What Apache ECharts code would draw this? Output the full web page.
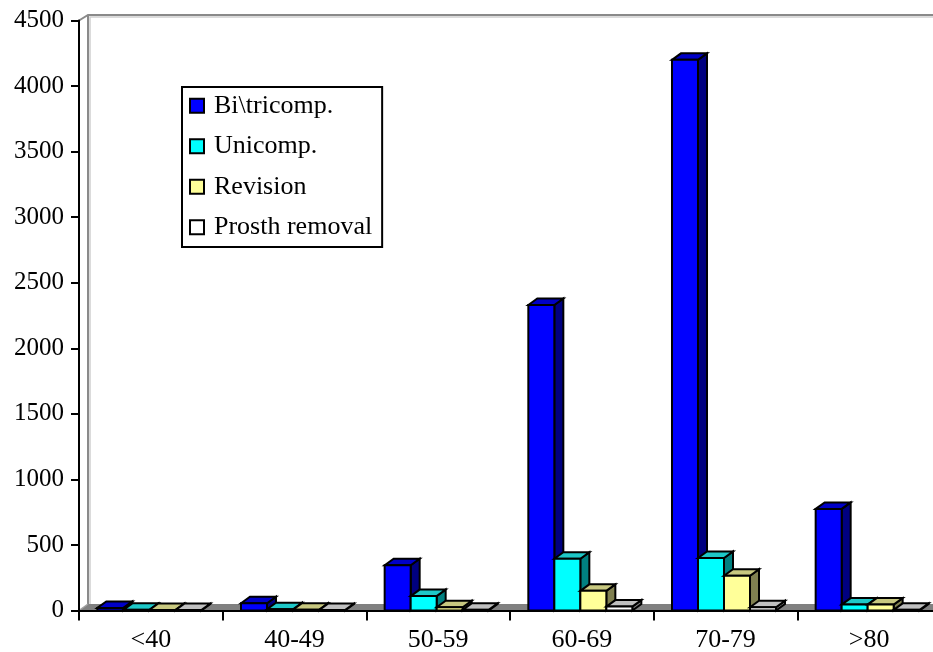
<!DOCTYPE html>
<html>
<head>
<meta charset="utf-8">
<script src="https://cdn.jsdelivr.net/npm/echarts@6/dist/echarts.min.js"></script>
<style>
html,body{margin:0;padding:0;background:#fff;}
#chart{width:933px;height:652px;}
</style>
</head>
<body>
<div id="chart"></div>
<script>
const categories = ['<40', '40-49', '50-59', '60-69', '70-79', '>80'];
const biTricomp = [20, 55, 345, 2330, 4200, 775];
const unicomp = [5, 10, 110, 395, 400, 45];
const revision = [4, 6, 25, 150, 265, 45];
const prosthRemoval = [3, 3, 5, 30, 25, 5];
const seriesNames = ['Bi\\tricomp.', 'Unicomp.', 'Revision', 'Prosth removal'];
const yTicks = { min: 0, max: 4500, interval: 500 };

const palette = [
  { front: '#0000FF', top: '#0000C8', side: '#000080' },
  { front: '#00FFFF', top: '#1EC8C8', side: '#008080' },
  { front: '#FFFF99', top: '#C8C880', side: '#808050' },
  { front: '#FFFFFF', top: '#C0C0C0', side: '#808080' }
];
const DX = 9, DY = -6.5;
const FONT = "'Liberation Serif', 'Times New Roman', serif";

function barRenderer(idx) {
  const col = palette[idx];
  return function (params, api) {
    const c = api.value(0), v = api.value(1);
    const p0 = api.coord([c, 0]);
    const p1 = api.coord([c, v]);
    const band = api.size([1, 0])[0];
    const bw = band * 0.181;
    const x = p0[0] - 2 * bw + idx * bw - 1.5;
    const yb = p0[1], yt = p1[1];
    const st = { stroke: '#000', lineWidth: 2, lineJoin: 'miter' };
    return {
      type: 'group',
      children: [
        { type: 'polygon', shape: { points: [[x + bw, yt], [x + bw + DX, yt + DY], [x + bw + DX, yb + DY], [x + bw, yb]] },
          style: Object.assign({ fill: col.side }, st) },
        { type: 'polygon', shape: { points: [[x, yt], [x + DX, yt + DY], [x + bw + DX, yt + DY], [x + bw, yt]] },
          style: Object.assign({ fill: col.top }, st) },
        { type: 'rect', shape: { x: x, y: yt, width: bw, height: yb - yt },
          style: Object.assign({ fill: col.front }, st) }
      ]
    };
  };
}

function wallRenderer(params, api) {
  const cs = params.coordSys;
  const gx = cs.x, gy = cs.y, gw = cs.width, gh = cs.height;
  const bx = gx + DX, by = gy + DY + 1, fy = gy + gh;
  return {
    type: 'group',
    silent: true,
    children: [
      { type: 'polygon', shape: { points: [[gx, fy], [gx + gw + 20, fy], [gx + gw + 20 + DX, fy + DY], [bx, fy + DY]] },
        style: { fill: '#808080' } },
      { type: 'polyline', shape: { points: [[gx, gy], [bx, by], [gx + gw + 30, by]] },
        style: { stroke: '#8a8a8a', lineWidth: 2, fill: null } },
      { type: 'polyline', shape: { points: [[bx, fy + DY], [bx, by]] },
        style: { stroke: '#8a8a8a', lineWidth: 2, fill: null } },
      { type: 'polyline', shape: { points: [[bx + 2, fy + DY], [bx + 2, by + 2], [gx + gw + 30, by + 2]] },
        style: { stroke: '#cfcfcf', lineWidth: 1.5, fill: null } },
      { type: 'polyline', shape: { points: [[gx, fy], [bx, fy + DY]] },
        style: { stroke: '#a0a0a0', lineWidth: 1.5, fill: null } }
    ]
  };
}

const seriesData = [biTricomp, unicomp, revision, prosthRemoval];
const series = [{
  type: 'custom',
  name: '__wall',
  renderItem: wallRenderer,
  data: [[0, 0]],
  z: 1,
  silent: true,
  legendHoverLink: false
}];
seriesData.forEach(function (arr, i) {
  series.push({
    type: 'custom',
    name: seriesNames[i],
    renderItem: barRenderer(i),
    itemStyle: { color: palette[i].front },
    encode: { x: 0, y: 1 },
    data: arr.map(function (v, j) { return [j, v]; }),
    z: 2 + i
  });
});

const chart = echarts.init(document.getElementById('chart'), null, { renderer: 'canvas' });
chart.setOption({
  animation: false,
  backgroundColor: '#fff',
  grid: { left: 79, top: 20.5, width: 862, height: 590, containLabel: false, outerBoundsMode: 'none' },
  legend: {
    data: seriesNames,
    orient: 'vertical',
    left: 182,
    top: 87,
    icon: 'rect',
    itemWidth: 14,
    itemHeight: 14,
    itemGap: 13,
    padding: [5, 10, 6, 7],
    borderColor: '#000',
    borderWidth: 2,
    backgroundColor: '#fff',
    itemStyle: { borderColor: '#000', borderWidth: 2 },
    textStyle: { fontFamily: FONT, fontSize: 26, color: '#000', lineHeight: 27.5, padding: [0, 0, 0, 5] },
    selectedMode: false,
    z: 10
  },
  xAxis: {
    type: 'category',
    data: categories,
    boundaryGap: true,
    axisLine: { show: true, lineStyle: { color: '#000', width: 2 } },
    axisTick: { show: true, length: 10, lineStyle: { color: '#000', width: 2 } },
    axisLabel: { fontFamily: FONT, fontSize: 26, color: '#000', margin: 17 },
    splitLine: { show: false },
    z: 5
  },
  yAxis: {
    type: 'value',
    min: yTicks.min,
    max: yTicks.max,
    interval: yTicks.interval,
    axisLine: { show: true, lineStyle: { color: '#000', width: 2 } },
    axisTick: { show: true, length: 8, lineStyle: { color: '#000', width: 2 } },
    axisLabel: { fontFamily: FONT, fontSize: 25, color: '#000', margin: 15, formatter: function (v) { return String(v); } },
    splitLine: { show: false },
    z: 5
  },
  series: series
});
</script>
</body>
</html>
